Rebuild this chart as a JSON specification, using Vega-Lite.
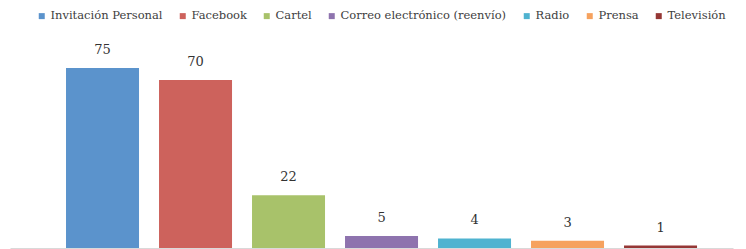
{
  "$schema": "https://vega.github.io/schema/vega-lite/v6.json",
  "width": 723,
  "height": 248,
  "autosize": {"type": "none"},
  "padding": {"left": 10, "top": 0, "right": 13, "bottom": 1},
  "background": "white",
  "data": {"values": [
    {"medio": "Invitación Personal", "valor": 75},
    {"medio": "Facebook", "valor": 70},
    {"medio": "Cartel", "valor": 22},
    {"medio": "Correo electrónico (reenvío)", "valor": 5},
    {"medio": "Radio", "valor": 4},
    {"medio": "Prensa", "valor": 3},
    {"medio": "Televisión", "valor": 1}
  ]},
  "config": {"view": {"stroke": null}, "font": "DejaVu Serif",
    "legend": {"labelFont": "DejaVu Serif"}},
  "encoding": {
    "x": {"field": "medio", "type": "nominal", "sort": null,
      "scale": {"paddingInner": 0.215, "paddingOuter": 0.4945, "align": 0.609},
      "axis": {"title": null, "labels": false, "ticks": false, "domainColor": "#d9d9d9", "domainWidth": 1}},
    "y": {"field": "valor", "type": "quantitative",
      "scale": {"domain": [0, 103.3], "nice": false},
      "axis": null}
  },
  "layer": [
    {"mark": {"type": "bar"},
     "encoding": {
       "color": {"field": "medio", "type": "nominal", "sort": null,
         "scale": {
           "domain": ["Invitación Personal", "Facebook", "Cartel", "Correo electrónico (reenvío)", "Radio", "Prensa", "Televisión"],
           "range": ["#5b93cc", "#cd625c", "#a8c26a", "#8e73ae", "#4fb3d0", "#f6a25e", "#953735"]},
         "legend": {
           "title": null, "orient": "none", "legendX": 26, "legendY": 10,
           "direction": "horizontal", "columns": 7,
           "symbolType": "square", "symbolSize": 36, "symbolStrokeWidth": 0,
           "labelFont": "DejaVu Serif", "labelFontSize": 11.5, "labelColor": "#404040",
           "labelOffset": 3, "columnPadding": 14, "labelLimit": 300}}
     }},
    {"mark": {"type": "text", "dy": -18, "baseline": "middle", "font": "DejaVu Serif", "fontSize": 13, "color": "#333333"},
     "encoding": {"text": {"field": "valor", "type": "quantitative"}}}
  ]
}
